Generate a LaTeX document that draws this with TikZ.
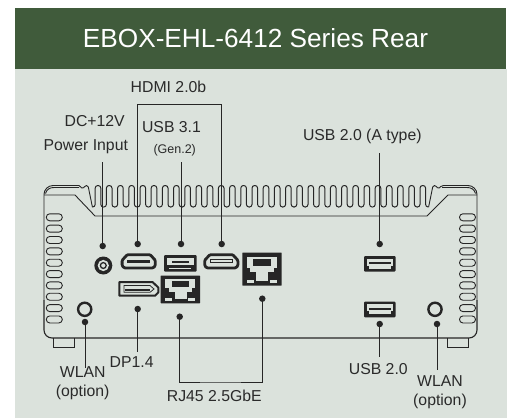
\documentclass[tikz,border=0pt]{standalone}
\usepackage{fontspec}
\setmainfont{Liberation Sans}
\definecolor{headgreen}{RGB}{64,91,59}
\definecolor{panelgrey}{RGB}{219,226,220}
\definecolor{inkdark}{RGB}{38,38,38}
\definecolor{labelgrey}{RGB}{42,42,42}
\newcommand{\lblsize}{\fontsize{15.8}{19}\selectfont}
\tikzset{
	dot/.style={circle,fill=inkdark,inner sep=0pt,minimum size=6.5pt},
	lead/.style={draw=inkdark,line width=1pt},
	body/.style={draw=inkdark,line width=0.9pt},
	hdmiport/.pic={
		\draw[inkdark,line width=2.8pt,rounded corners=1pt] (6.5,1.4) -- (29.5,1.4) -- (34.6,7) -- (34.6,12.3) -- (32.6,14.6) -- (3.4,14.6) -- (1.4,12.3) -- (1.4,7) -- cycle;
	},
	usbport/.pic={
		\fill[inkdark,rounded corners=1pt] (0,0) rectangle (31.5,15.7);
		\fill[panelgrey] (2.5,2.5) rectangle (29,12.5);
		\fill[inkdark] (5,6) rectangle (26.5,8);
		\fill[inkdark] (2.5,9.5) rectangle (5,12.5);
		\fill[inkdark] (26.5,9.5) rectangle (29,12.5);
	},
	rjport/.pic={
		\fill[inkdark,rounded corners=0.5pt] (0,0) rectangle (1,1);
		\fill[panelgrey] (.12,.13) rectangle (.88,.58);
		\fill[inkdark] (.28,.2) rectangle (.72,.4);
		\fill[panelgrey] (.36,.58) rectangle (.66,.86);
		\fill[panelgrey] (.12,.82) rectangle (.3,.92);
		\fill[panelgrey] (.7,.82) rectangle (.88,.92);
		\fill[inkdark] (.12,.46) rectangle (.2,.58);
		\fill[inkdark] (.8,.46) rectangle (.88,.58);
	}
}
\begin{document}
\begin{tikzpicture}[x=1pt,y=-1pt]
	\useasboundingbox (0,0) rectangle (508,418);
	\fill[white] (0,0) rectangle (508,418);
	\fill[panelgrey] (15,69) rectangle (506.7,418);
	\fill[headgreen] (15,8) rectangle (506,69);
	\node[text=white,font=\fontsize{26.2}{30}\selectfont] (title) at (255.5,38.5) {EBOX-EHL-6412 Series Rear};

	% chassis outline
	\draw[body,rounded corners=9pt] (44,300) -- (44,185.5) -- (70,185.5);
	\draw[body] (70,185.5) -- (79,185.5);
	\draw[body,line join=round,rounded corners=1.5pt] (79,185.5) -- (83,189) -- (85,185.5) -- (88,185.5) -- (92.4,207);
	\draw[body] (45.5,193.5) .. controls (47,189) and (50,187.5) .. (54,187.5) -- (79,187.5);
	\draw[body] (44,195) -- (75,195) -- (95,216) -- (427,216) -- (448,195) -- (477,195);
	\foreach \i in {0,...,29} {
		\pgfmathsetmacro{\finx}{98+11.2*\i}
		\draw[body,line width=1pt,rounded corners=2.6pt] (\finx-5.6,207) -- (\finx-2.8,207) -- (\finx-2.8,185.5) -- (\finx+2.8,185.5) -- (\finx+2.8,207) -- (\finx+5.6,207);
	}
	\draw[body,line join=round,rounded corners=1.5pt] (428.6,207) -- (433,185.5) -- (436,185.5) -- (438,189) -- (442,185.5) -- (450,185.5);
	\draw[body,rounded corners=9pt] (450,185.5) -- (477,185.5) -- (477,300);
	\draw[body] (475.5,193.5) .. controls (474,189) and (471,187.5) .. (467,187.5) -- (442,187.5);
	\draw[body,line width=1.1pt,rounded corners=8pt] (44,300) -- (44,338) -- (477,338) -- (477,300);
	\draw[body] (53.3,338) -- (53.3,347) -- (74.3,347) -- (74.3,338);
	\draw[body] (447.7,338) -- (447.7,347) -- (468.3,347) -- (468.3,338);
	\foreach \i in {0,...,9} {
		\draw[body,rounded corners=3.4pt] (46.3,213.8+11.35*\i) rectangle (62.3,220.8+11.35*\i);
		\draw[body,rounded corners=3.4pt] (459.5,213.8+11.35*\i) rectangle (475.5,220.8+11.35*\i);
	}

	% ports
	\fill[inkdark] (103.3,265.5) circle (9);
	\fill[panelgrey] (103.3,265.5) circle (5.6);
	\draw[inkdark,line width=1.3pt] (103.3,265.5) circle (2.9);
	\pic at (120.7,253.3) {hdmiport};
	\fill[inkdark] (127,259.8) rectangle (150,262.6);
	\pic at (203.3,253.3) {hdmiport};
	\draw[inkdark,line width=1pt] (210,259.6) rectangle (232.5,262.8);
	\fill[inkdark,rounded corners=1pt] (164,255) rectangle (196.7,271.7);
	\fill[panelgrey] (167,258) rectangle (194,264.5);
	\fill[inkdark] (172,260.5) rectangle (189,263);
	\fill[panelgrey] (169,267.5) rectangle (191,268.5);
	\draw[inkdark,line width=2pt,line join=round] (119.3,282) -- (152.5,282) -- (158.3,287.5) -- (158.3,292.5) -- (155,295.7) -- (119.3,295.7) -- cycle;
	\draw[inkdark,line width=0.8pt] (124,285.5) -- (150,285.5) -- (154,289) -- (150,292.3) -- (124,292.3) -- cycle;
	\fill[inkdark] (125,288.8) rectangle (150,291);
	\pic[xscale=39.3,yscale=27.8] at (160.7,275.5) {rjport};
	\pic[xscale=39.3,yscale=33.2] at (242.3,252.5) {rjport};
	\pic at (364,256) {usbport};
	\pic at (364,301.7) {usbport};
	\draw[inkdark,line width=2.4pt] (84.7,309.3) circle (6.6);
	\draw[inkdark,line width=2.4pt] (435,309.3) circle (6.6);

	% dots
	\node[dot] (dcdot) at (102.7,246) {};
	\node[dot] (hdmidot1) at (137.7,244) {};
	\node[dot] (usbdot3) at (181,244) {};
	\node[dot] (hdmidot2) at (221.7,244) {};
	\node[dot] (usbdotA) at (379.7,244) {};
	\node[dot] (dpdot) at (137.7,309) {};
	\node[dot] (rjdot1) at (179.7,316.7) {};
	\node[dot] (rjdot2) at (262.3,298.7) {};
	\node[dot] (wlandot1) at (85,322) {};
	\node[dot] (usbdot2) at (379.7,324) {};
	\node[dot] (wlandot2) at (437,324) {};

	\coordinate (dcend) at (102.7,162);
	\coordinate (hdmitop) at (180,104.5);
	\coordinate (usbend3) at (181,162);
	\coordinate (usbendA) at (379.7,153);
	\coordinate (dpend) at (137.7,352);
	\coordinate (rjbot) at (220,382);
	\coordinate (wlanend1) at (85,368);
	\coordinate (usbend2) at (379.7,356.7);
	\coordinate (wlanend2) at (437,370);

	% leads
	\draw[lead] (dcend) -- (dcdot);
	\draw[lead] (hdmidot1) |- (hdmitop) -| (hdmidot2);
	\draw[lead] (usbend3) -- (usbdot3);
	\draw[lead] (usbendA) -- (usbdotA);
	\draw[lead] (dpdot) -- (dpend);
	\draw[lead] (rjdot1) |- (rjbot) -| (rjdot2);
	\draw[lead] (wlandot1) -- (wlanend1);
	\draw[lead] (usbdot2) -- (usbend2);
	\draw[lead] (wlandot2) -- (wlanend2);

	\begin{scope}[nodes = {text=labelgrey, font=\lblsize, align=center, inner sep=0pt}]
		\node (hdmilabel) at (168.5,86.7) {HDMI 2.0b};
		\node (dclabel) at (94.7,120.7) {DC+12V};
		\node (powerlabel) at (85.8,146.7) {Power Input};
		\node (usblabel3) at (171.5,126.7) {USB 3.1};
		\node[font=\fontsize{12.5}{14}\selectfont] (genlabel) at (174.7,150) {(Gen.2)};
		\node (usblabelA) at (362.3,136) {USB 2.0 (A type)};
		\node (dplabel) at (131.7,362) {DP1.4};
		\node (wlanlabel1) at (82.7,383.5) {WLAN\\(option)};
		\node (rjlabel) at (214.3,395.7) {RJ45 2.5GbE};
		\node (usblabel2) at (378.3,369) {USB 2.0};
		\node (wlanlabel2) at (440,392.5) {WLAN\\(option)};
	\end{scope}
\end{tikzpicture}
\end{document}
